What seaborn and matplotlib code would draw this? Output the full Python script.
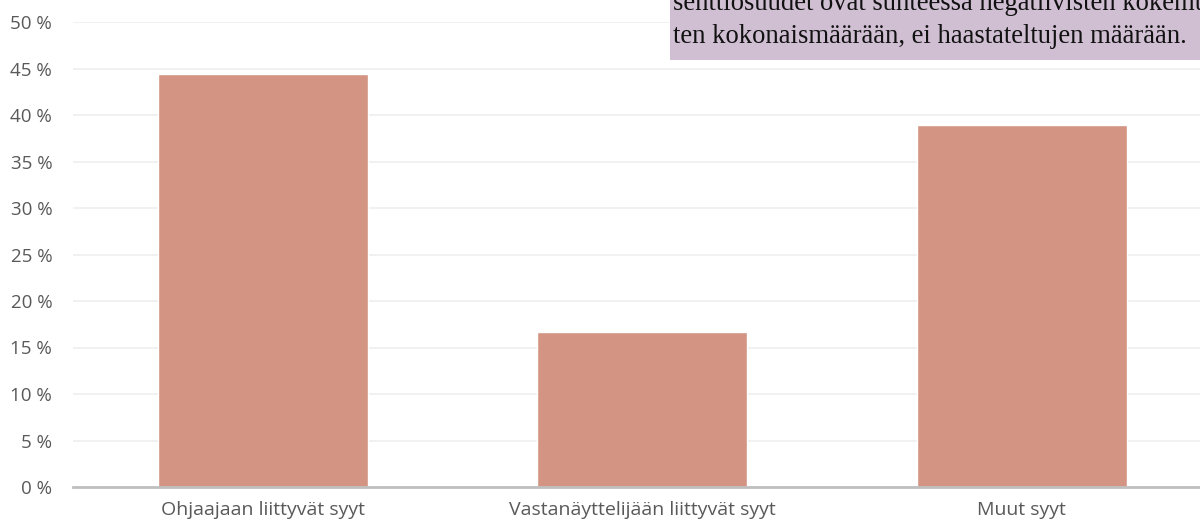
import matplotlib
matplotlib.use("Agg")
import matplotlib.pyplot as plt
import seaborn as sns
import pandas as pd
from matplotlib.patches import Rectangle

# Data
categories = ["Ohjaajaan liittyvät syyt", "Vastanäyttelijään liittyvät syyt", "Muut syyt"]
shares = [44.4, 16.7, 38.9]
y_ticks = [0, 5, 10, 15, 20, 25, 30, 35, 40, 45, 50]
note_lines = ["senttiosuudet ovat suhteessa negatiivisten kokemus-",
              "ten kokonaismäärään, ei haastateltujen määrään."]

df = pd.DataFrame({"syy": categories, "osuus": shares})

sns.set_style("white")
plt.rcParams["font.family"] = ["Open Sans", "DejaVu Sans"]

W, H = 1200, 529
fig = plt.figure(figsize=(12, 5.29), dpi=100)
ax = fig.add_axes([73 / W, (H - 487) / H, 1138.5 / W, 465 / H])

sns.barplot(data=df, x="syy", y="osuus", color="#D39484", width=0.553,
            saturation=1, ax=ax, zorder=3)

ax.set_xlim(-0.5, 2.5)
ax.set_ylim(0, 50)
ax.set_yticks(y_ticks)
ax.set_yticklabels([f"{t} %" for t in y_ticks])
ax.grid(axis="y", color="#EFEFEF", linewidth=1.2, zorder=0)
ax.set_axisbelow(True)
for s in ["top", "right", "left"]:
    ax.spines[s].set_visible(False)
ax.spines["bottom"].set_color("#BFBFBF")
ax.spines["bottom"].set_linewidth(2)
ax.spines["bottom"].set_zorder(4)
ax.tick_params(axis="both", length=0, labelcolor="#595959")
ax.tick_params(axis="y", pad=15, labelsize=13.5)
ax.tick_params(axis="x", pad=10, labelsize=14)
ax.set_xlabel("")
ax.set_ylabel("")

# Note box at top right (cut by the figure edge)
fig.patches.append(Rectangle((670 / W, (H - 60) / H), 540 / W, 60 / H,
                             transform=fig.transFigure, facecolor="#D0BFD3",
                             edgecolor="none", zorder=5))
fig.text(673 / W, (H - 10) / H, note_lines[0], family="Liberation Serif",
         fontsize=19.2, color="#111111", va="baseline", zorder=6)
fig.text(673 / W, (H - 43) / H, note_lines[1], family="Liberation Serif",
         fontsize=19.2, color="#111111", va="baseline", zorder=6)

fig.savefig("out.png", dpi=100)
